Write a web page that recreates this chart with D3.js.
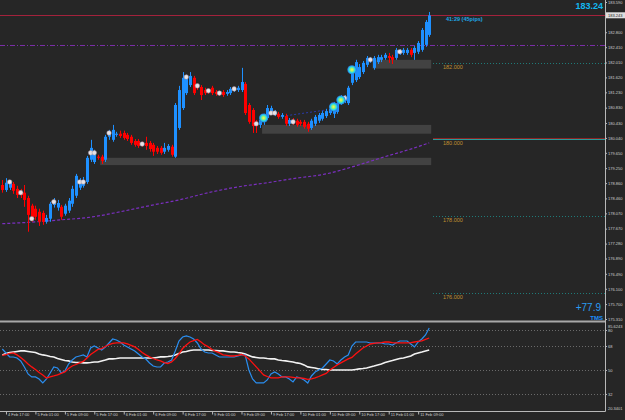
<!DOCTYPE html>
<html>
<head>
<meta charset="utf-8">
<script src="https://cdnjs.cloudflare.com/ajax/libs/d3/7.8.5/d3.min.js"></script>
<style>
body { margin: 0; background: #262626; }
svg { display: block; font-family: "Liberation Sans", Arial, sans-serif; }
</style>
</head>
<body>
<svg id="chart" width="625" height="420"></svg>
<script>

const opens = [178.81,178.68,178.74,178.84,178.71,178.63,178.61,178.47,178.27,178.19,
178.11,178.08,177.85,177.93,178.29,178.22,178.24,178.06,178.14,178.32,
178.53,178.74,178.79,178.89,179.47,179.41,179.55,179.55,179.47,180.07,
179.99,180.12,180.15,180.17,180.12,180.07,179.96,179.96,179.88,179.91,
179.91,179.86,179.78,179.78,179.68,179.73,179.81,179.55,180.30,180.82,
181.21,181.42,181.61,181.40,181.37,181.29,181.27,181.35,181.24,181.21,
181.24,181.19,181.21,181.29,181.29,181.29,181.45,180.90,180.77,180.46,
180.38,180.46,180.56,180.72,180.67,180.67,180.59,180.61,180.41,180.51,
180.49,180.46,180.46,180.41,180.30,180.41,180.49,180.54,180.61,180.69,
180.67,180.72,180.95,181.01,180.95,181.48,181.55,181.63,181.76,181.95,
182.05,181.87,182.02,182.08,182.13,182.18,182.15,182.13,182.26,182.26,
182.26,182.34,182.26,182.29,182.34,182.47,182.73];

const highs = [178.94,178.99,178.94,178.89,178.79,178.71,178.81,178.53,178.32,178.27,
178.19,178.14,178.03,178.37,178.47,178.42,178.29,178.32,178.47,178.79,
179.10,178.99,179.02,179.57,179.99,179.73,179.60,179.60,180.12,180.25,
180.38,180.20,180.23,180.23,180.17,180.12,180.01,180.01,179.94,180.07,
179.96,179.91,179.83,179.83,179.91,179.88,179.86,180.95,181.40,181.76,
181.69,181.76,181.66,181.45,181.42,181.35,181.32,181.40,181.29,181.27,
181.29,181.29,181.37,181.37,181.40,181.87,181.50,180.95,180.82,180.51,
180.56,180.67,180.90,180.88,180.77,180.72,180.69,180.67,180.56,180.56,
180.54,180.51,180.51,180.46,180.54,180.64,180.69,180.74,180.80,180.85,
180.98,181.03,181.16,181.16,181.40,181.92,182.08,181.97,182.05,182.18,
182.15,182.18,182.21,182.21,182.26,182.26,182.21,182.39,182.36,182.39,
182.39,182.39,182.44,182.57,182.91,183.12,183.33];

const lows = [178.61,178.63,178.68,178.58,178.47,178.47,178.24,177.59,177.85,177.90,
177.74,177.77,177.80,177.85,178.22,178.14,177.90,178.01,178.08,178.24,
178.47,178.68,178.74,178.84,179.41,179.36,179.47,179.36,179.41,179.99,
179.94,180.07,180.04,179.99,179.96,179.86,179.81,179.78,179.81,179.73,
179.68,179.57,179.62,179.60,179.62,179.68,179.55,179.52,180.25,180.77,
181.16,181.37,181.16,181.29,181.03,181.16,181.19,181.16,181.14,181.14,
181.11,181.14,181.16,181.24,181.24,181.24,180.64,180.41,180.17,180.17,
180.30,180.38,180.51,180.64,180.61,180.54,180.54,180.35,180.35,180.38,
180.33,180.35,180.28,180.20,180.25,180.35,180.43,180.49,180.56,180.64,
180.56,180.67,180.90,180.95,180.90,181.42,181.50,181.58,181.71,181.89,
182.00,181.82,181.97,182.02,182.08,182.00,181.97,182.08,182.21,182.21,
182.21,182.15,182.08,182.23,182.29,182.42,182.68];

const closes = [178.68,178.87,178.89,178.66,178.55,178.55,178.42,178.03,177.93,177.98,
177.85,177.85,177.95,178.32,178.37,178.34,177.98,178.27,178.40,178.71,
179.05,178.94,178.94,179.52,179.78,179.68,179.52,179.44,180.07,180.17,
180.25,180.15,180.09,180.04,180.01,179.91,179.86,179.83,179.86,179.83,
179.75,179.68,179.68,179.65,179.78,179.83,179.60,180.90,181.29,181.61,
181.61,181.66,181.21,181.35,181.16,181.21,181.24,181.21,181.19,181.19,
181.16,181.24,181.32,181.32,181.35,181.50,180.69,180.46,180.35,180.35,
180.51,180.61,180.82,180.82,180.72,180.59,180.64,180.41,180.51,180.43,
180.38,180.41,180.33,180.28,180.49,180.59,180.64,180.69,180.74,180.80,
180.93,180.95,181.11,181.11,181.35,181.87,182.02,181.89,182.00,182.13,
182.10,182.13,182.15,182.15,182.21,182.13,182.08,182.34,182.31,182.34,
182.34,182.21,182.39,182.52,182.86,183.07,183.24];

const rsiLine = [65.75,62.75,59.75,59.75,59,56.75,52.25,47,44.75,44.75,
43.25,40.25,43.25,47.75,52.25,51.5,47.75,49.25,54.5,57.5,
59.75,60.5,61.25,59.75,66.5,68,66.5,65,67.25,70.25,
73.25,72.5,71,68.75,67.25,65.75,64.25,62,59.75,58.25,
55.25,53,52.25,52.25,55.25,56,57.5,64.25,71.75,74.75,
75.5,74.75,73.25,70.25,65.75,63.5,62.75,62.75,61.25,59.75,
59.75,59.75,59.75,59.75,60.5,61.25,61.25,50,43.25,40.25,
40.25,40.25,42.5,47,48.5,47,44.75,44.75,43.25,41,
44.75,44,42.5,40.25,45.5,48.5,50,51.5,54.5,57.5,
56.75,54.5,57.5,59.75,61.25,68,71,71,71,71,
70.25,70.25,70.25,70.25,69.5,69.5,68.75,70.25,71.75,71.75,
71.75,69.5,67.25,71,73.25,76.25,81.5];

const signalLine = [60.9,61.6,62.4,62.8,61.3,59.4,57.1,54.5,52.3,50.4,
48.1,46.3,44,44.8,45.5,46.3,47.4,48.5,51.1,53,
54.1,55.3,56.4,59,61.6,63.5,65.4,66.1,67.6,69.1,
69.9,70.3,70.3,70.3,69.5,68.4,67.3,65.4,63.1,61.3,
59.8,58.6,57.5,56.8,55.6,54.9,56,58.6,62,66.1,
68.8,71,72.1,72.9,71,68.8,67.3,65.4,63.9,62.8,
61.3,60.9,60.5,60.5,60.9,61.6,60.5,58.3,55.3,52.3,
49.3,46.3,45.1,44,44,44,44.8,44.8,44.8,44.4,
44,44,43.6,42.9,43.3,44,45.1,46.3,47.4,50,
51.9,53.8,55.3,56.8,58.3,59.4,62,64.3,66.5,68,
69.5,69.9,70.3,70.6,71,71,70.6,70.3,70.3,70.3,
70.3,70.6,71,71.4,71.8,72.9,74];

const baseLine = [61.3,62.4,63.1,63.5,63.9,64.3,64.3,63.9,63.5,63.1,
62,61.3,60.9,60.1,59.8,58.6,57.9,57.1,56.8,56,
55.6,55.6,55.3,55.3,55.6,56,56,56.8,57.5,58.3,
58.3,58.6,59,59,59,59,59,59,59,59,
59,59,59.4,59.8,59.8,60.1,60.5,61.3,62.4,63.5,
63.9,64.6,65,65,65,65,65,64.6,64.6,64.3,
64.3,63.9,63.5,63.5,63.1,62.8,62,60.9,59.8,59.4,
59,59,58.6,58.3,58.3,57.5,57.1,56.8,56.4,56,
55.3,54.9,53.8,52.3,51.9,51.5,50.8,50.4,50.4,50,
50,50,50,50,50,50,50.4,50.8,51.1,51.5,
52.3,53,53.8,54.5,55.6,56.4,57.1,57.9,58.6,59,
59.8,60.5,62,62.8,63.5,64.3,65];

const maIndex = [0,8,16,24,32,40,48,56,64,72,80,88,96,104,112,116];
const maValues = [177.80,177.84,177.90,177.97,178.11,178.27,178.42,178.61,178.76,178.87,178.99,179.10,179.31,179.55,179.78,179.91];

const dotIndex = [2,5,8,14,21,22,24,25,29,38,50,53,56,59,63,69,73,74,79,93,100,108];
const dotPrice = [178.89,178.61,177.93,178.37,178.89,178.89,179.65,179.65,180.17,179.88,181.63,181.40,181.27,181.21,181.32,180.41,180.69,180.69,180.46,181.08,182.08,182.29];

const signalIndex = [71,90,92,95];
const signalPrice = [180.56,180.85,181.03,181.82];

const zoneStart = [101,71,27];
const zoneTop = [182.08,180.38,179.52];
const zoneBottom = [181.85,180.15,179.33];

const levelPrices = [182,180,178,176];
const levelLabels = ["182.000","180.000","178.000","176.000"];

const priceTicks = [183.59,182.80,182.41,182.01,181.62,181.23,180.83,180.43,180.04,179.65,179.25,178.86,178.46,178.07,177.67,177.28,176.89,176.49,176.10,175.70,175.31];
const indTicks = [80,68,50,32];
const timeIndex = [1,9,17,25,33,41,49,57,65,73,81,89,97,105,113];
const timeLabels = ["4 Feb 17:00","5 Feb 01:00","5 Feb 09:00","5 Feb 17:00","6 Feb 01:00","6 Feb 09:00","6 Feb 17:00","9 Feb 01:00","9 Feb 09:00","9 Feb 17:00","10 Feb 01:00","10 Feb 09:00","10 Feb 17:00","11 Feb 01:00","11 Feb 09:00"];

const bidPrice = 183.243;
const trendPrice = 182.47;
const trendFrom = [75, 180.59];
const trendTo = [88, 180.77];

const svg = d3.select("#chart");
const width = +svg.attr("width");
const height = +svg.attr("height");
const axisX = 605;

svg.append("rect").attr("width", width).attr("height", height).attr("fill", "#262626");

const x = d3.scaleLinear().domain([0, 116]).range([2.3, 429.2]);
const y = d3.scaleLinear().domain([175.31, 183.59]).range([319, 2]);
const yInd = d3.scaleLinear().domain([20.3401, 85.6243]).range([409.5, 322.5]);

const defs = svg.append("defs");
const grad = defs.append("radialGradient").attr("id", "sig");
grad.append("stop").attr("offset", "0%").attr("stop-color", "#fff34a");
grad.append("stop").attr("offset", "35%").attr("stop-color", "#9cf070");
grad.append("stop").attr("offset", "65%").attr("stop-color", "#22d8f0");
grad.append("stop").attr("offset", "100%").attr("stop-color", "#2a6fd6");

const main = svg.append("g");

// zones
main.selectAll(".zone").data(zoneStart).enter().append("rect")
  .attr("x", d => x(d) - 1.5)
  .attr("y", (d, k) => y(zoneTop[k]))
  .attr("width", d => x(116) + 2 - x(d) + 1.5)
  .attr("height", (d, k) => y(zoneBottom[k]) - y(zoneTop[k]))
  .attr("fill", "#424242");

// level lines
main.selectAll(".lvl").data(levelPrices).enter().append("line")
  .attr("x1", 433).attr("x2", axisX)
  .attr("y1", d => Math.round(y(d)) + 0.5).attr("y2", d => Math.round(y(d)) + 0.5)
  .attr("stroke", d => d === 180 ? "#2a9a9a" : "#1f7a78")
  .attr("stroke-dasharray", d => d === 180 ? null : "1,2");

main.append("line")
  .attr("x1", 433).attr("x2", axisX)
  .attr("y1", Math.round(y(180)) - 0.5).attr("y2", Math.round(y(180)) - 0.5)
  .attr("stroke", "#8a2424");

main.selectAll(".lvlText").data(levelPrices).enter().append("text")
  .attr("x", 443).attr("y", d => y(d) + 6)
  .attr("font-size", 5.5).attr("fill", "#c09030")
  .text((d, k) => levelLabels[k]);

// bid line and dash-dot line
main.append("line")
  .attr("x1", 0).attr("x2", axisX)
  .attr("y1", Math.round(y(bidPrice)) + 0.5).attr("y2", Math.round(y(bidPrice)) + 0.5)
  .attr("stroke", "#a3223c");

main.append("line")
  .attr("x1", 0).attr("x2", axisX)
  .attr("y1", Math.round(y(trendPrice)) + 0.5).attr("y2", Math.round(y(trendPrice)) + 0.5)
  .attr("stroke", "#7a2ea6").attr("stroke-dasharray", "5,2,1,2");

// moving average
const maLine = d3.line().x(d => x(d)).y((d, k) => y(maValues[k])).curve(d3.curveMonotoneX);
main.append("path").attr("d", maLine(maIndex))
  .attr("fill", "none").attr("stroke", "#7b2fc0").attr("stroke-width", 1.2)
  .attr("stroke-dasharray", "3,2");

// trend dashed
main.append("line")
  .attr("x1", x(trendFrom[0])).attr("y1", y(trendFrom[1]))
  .attr("x2", x(trendTo[0])).attr("y2", y(trendTo[1]))
  .attr("stroke", "#2a3aa8").attr("stroke-dasharray", "2,2");

// candles
const candles = opens.map((o, i) => ({ i: i, o: o, h: highs[i], l: lows[i], c: closes[i] }));
const colorOf = d => d.c >= d.o ? "#1e90ff" : "#ff0000";

main.selectAll(".wick").data(candles).enter().append("line")
  .attr("x1", d => Math.round(x(d.i)) + 0.5).attr("x2", d => Math.round(x(d.i)) + 0.5)
  .attr("y1", d => y(d.h)).attr("y2", d => y(d.l))
  .attr("stroke", colorOf);

main.selectAll(".body").data(candles).enter().append("rect")
  .attr("x", d => Math.round(x(d.i)) - 1)
  .attr("y", d => y(Math.max(d.o, d.c)))
  .attr("width", 3)
  .attr("height", d => Math.max(1, Math.abs(y(d.o) - y(d.c))))
  .attr("fill", colorOf);

// markers
main.selectAll(".dot").data(dotIndex).enter().append("circle")
  .attr("cx", d => x(d)).attr("cy", (d, k) => y(dotPrice[k]))
  .attr("r", 2.3).attr("fill", "#e6e2e6").attr("stroke", "#9a8a9a").attr("stroke-width", 0.5);

main.selectAll(".sig").data(signalIndex).enter().append("circle")
  .attr("cx", d => x(d)).attr("cy", (d, k) => y(signalPrice[k]))
  .attr("r", 4.6).attr("fill", "url(#sig)");

// texts
svg.append("text").attr("x", 603).attr("y", 9).attr("text-anchor", "end")
  .attr("font-size", 9).attr("font-weight", "bold").attr("fill", "#12b8f0").text("183.24");

svg.append("text").attr("x", 446).attr("y", 21)
  .attr("font-size", 5.5).attr("font-weight", "bold").attr("fill", "#1ea6e6").text("41:29 (45pips)");

svg.append("text").attr("x", 601).attr("y", 311).attr("text-anchor", "end")
  .attr("font-size", 10).attr("fill", "#2a9cf2").text("+77.9");

// price axis
const priceAxis = d3.axisRight(y).tickValues(priceTicks).tickSize(2).tickPadding(1).tickFormat(d3.format(".3f"));
const pa = svg.append("g").attr("transform", `translate(${axisX},0)`).call(priceAxis);
pa.select(".domain").remove();
pa.selectAll("line").attr("stroke", "#b8b8b8");
pa.selectAll("text").attr("font-size", 4).attr("fill", "#cfcfcf").attr("font-family", "Liberation Sans, Arial, sans-serif");

svg.append("rect").attr("x", axisX + 1).attr("y", y(bidPrice) - 3).attr("width", 19).attr("height", 6).attr("fill", "#dedede");
svg.append("text").attr("x", axisX + 3).attr("y", y(bidPrice) + 1.5)
  .attr("font-size", 4).attr("fill", "#202020").text(bidPrice.toFixed(3));

// separator
svg.append("rect").attr("x", 0).attr("y", 320.5).attr("width", axisX).attr("height", 2).attr("fill", "#a8a8a8");
svg.append("text").attr("x", 603).attr("y", 320).attr("text-anchor", "end")
  .attr("font-size", 6).attr("font-weight", "bold").attr("fill", "#1e90ff").text("TMS");

// indicator
const ind = svg.append("g");
ind.selectAll(".grid").data(indTicks).enter().append("line")
  .attr("x1", 0).attr("x2", axisX)
  .attr("y1", d => Math.round(yInd(d)) + 0.5).attr("y2", d => Math.round(yInd(d)) + 0.5)
  .attr("stroke", "#6a6a6a").attr("stroke-dasharray", "1,2");

const lineOf = arr => d3.line().x((d, i) => x(i)).y(d => yInd(d))(arr);
ind.append("path").attr("d", lineOf(baseLine)).attr("fill", "none").attr("stroke", "#f2f2f2").attr("stroke-width", 1.6);
ind.append("path").attr("d", lineOf(rsiLine)).attr("fill", "none").attr("stroke", "#2a8ef0").attr("stroke-width", 1.2);
ind.append("path").attr("d", lineOf(signalLine)).attr("fill", "none").attr("stroke", "#ff1010").attr("stroke-width", 1.3);

const indAxis = d3.axisRight(yInd).tickValues(indTicks).tickSize(2).tickPadding(1);
const ia = svg.append("g").attr("transform", `translate(${axisX},0)`).call(indAxis);
ia.select(".domain").remove();
ia.selectAll("line").attr("stroke", "#b8b8b8");
ia.selectAll("text").attr("font-size", 4).attr("fill", "#cfcfcf").attr("font-family", "Liberation Sans, Arial, sans-serif");

svg.append("text").attr("x", axisX + 3).attr("y", 327.5).attr("font-size", 4).attr("fill", "#cfcfcf").text("85.6243");
svg.append("text").attr("x", axisX + 3).attr("y", 409.5).attr("font-size", 4).attr("fill", "#cfcfcf").text("20.3401");

// frame
svg.append("line").attr("x1", axisX + 0.5).attr("x2", axisX + 0.5).attr("y1", 0).attr("y2", 411.5)
  .attr("stroke", "#b8b8b8");
svg.append("line").attr("x1", 0).attr("x2", axisX + 0.5).attr("y1", 411.5).attr("y2", 411.5)
  .attr("stroke", "#b8b8b8");

// time axis
const timeAxis = d3.axisBottom(x).tickValues(timeIndex).tickSize(3).tickPadding(1)
  .tickFormat((d, k) => timeLabels[k]);
const ta = svg.append("g").attr("transform", "translate(0,411.5)").call(timeAxis);
ta.select(".domain").remove();
ta.selectAll("line").attr("stroke", "#b8b8b8");
ta.selectAll("text").attr("font-size", 4).attr("fill", "#cfcfcf")
  .attr("text-anchor", "start").attr("dx", 1.5).attr("dy", 0.2)
  .attr("font-family", "Liberation Sans, Arial, sans-serif");

</script>
</body>
</html>
